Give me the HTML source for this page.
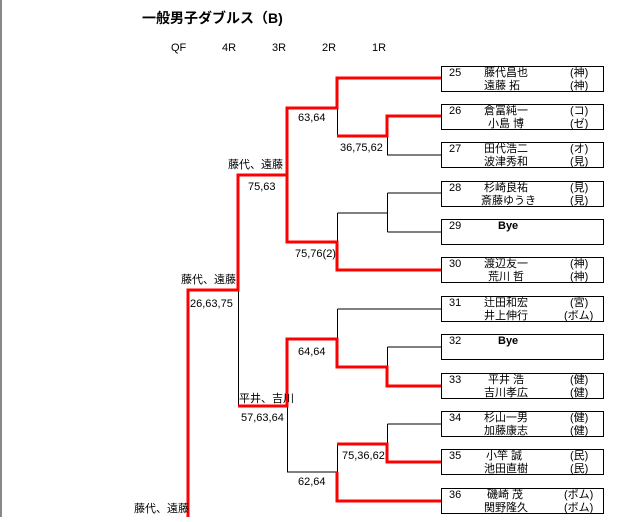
<!DOCTYPE html>
<html><head><meta charset="utf-8"><style>
body{margin:0;background:#fff;}
svg text{font-family:"Liberation Sans","Noto Sans CJK JP",sans-serif;font-size:11px;fill:#000;}
</style></head><body>
<svg width="627" height="517" xmlns="http://www.w3.org/2000/svg">
<line x1="1" y1="0" x2="1" y2="517" stroke="#888" stroke-width="2"/>
<text x="142" y="23" style="font-size:14px;font-weight:bold">一般男子ダブルス（B)</text>
<text x="171" y="51">QF</text><text x="222" y="51">4R</text><text x="272" y="51">3R</text><text x="322" y="51">2R</text><text x="372" y="51">1R</text>
<g fill="none" stroke="#000" stroke-width="1">
<path d="M337.5 108V136M387.5 136V155H441M287.5 175V242M337.5 213V242M337.5 213H387.5M387.5 193V232M387.5 193H441M387.5 232H441M238.5 290V406M337.5 309V339M337.5 309H441M387.5 347V367M387.5 347H441M287.5 406V472H337.5M337.5 444V472M387.5 424V444M387.5 424H441"/>
</g>
<g fill="none" stroke="#f00" stroke-width="3">
<path d="M441 78H337V108H287V175H238V290H188V517"/>
<path d="M337 136H387V116H441"/>
<path d="M287 175V242H337V270H441"/>
<path d="M238 406H287V339H337V367H387V386H441"/>
<path d="M337 444H387V462H441"/>
<path d="M337 472V501H441"/>
</g>
<g fill="#fff" stroke="#000" stroke-width="1">
<rect x="441.5" y="66.5" width="162" height="25"/><rect x="441.5" y="104.5" width="162" height="25"/>
<rect x="441.5" y="142.5" width="162" height="25"/><rect x="441.5" y="181.5" width="162" height="25"/>
<rect x="441.5" y="219.5" width="162" height="25"/><rect x="441.5" y="257.5" width="162" height="25"/>
<rect x="441.5" y="296.5" width="162" height="25"/><rect x="441.5" y="334.5" width="162" height="25"/>
<rect x="441.5" y="373.5" width="162" height="25"/><rect x="441.5" y="411.5" width="162" height="25"/>
<rect x="441.5" y="449.5" width="162" height="25"/><rect x="441.5" y="488.5" width="162" height="25"/>
</g>
<text x="298" y="121">63,64</text>
<text x="340" y="151">36,75,62</text>
<text x="228" y="168">藤代、遠藤</text>
<text x="248" y="190">75,63</text>
<text x="295" y="257">75,76(2)</text>
<text x="181" y="283">藤代、遠藤</text>
<text x="190" y="307">26,63,75</text>
<text x="298" y="355">64,64</text>
<text x="239" y="402">平井、吉川</text>
<text x="241" y="421">57,63,64</text>
<text x="342" y="459">75,36,62</text>
<text x="298" y="485">62,64</text>
<text x="134" y="512">藤代、遠藤</text>
<g>
<text x="449" y="76">25</text><text x="484" y="76">藤代昌也</text><text x="570" y="76">(神)</text><text x="484" y="89">遠藤 拓</text><text x="570" y="89">(神)</text>
<text x="449" y="114">26</text><text x="484" y="114">倉冨純一</text><text x="570" y="114">(コ)</text><text x="488" y="127">小島 博</text><text x="570" y="127">(ゼ)</text>
<text x="449" y="152">27</text><text x="484" y="152">田代浩二</text><text x="570" y="152">(オ)</text><text x="484" y="165">波津秀和</text><text x="570" y="165">(見)</text>
<text x="449" y="191">28</text><text x="484" y="191">杉崎良祐</text><text x="570" y="191">(見)</text><text x="481" y="204">斎藤ゆうき</text><text x="570" y="204">(見)</text>
<text x="449" y="229">29</text><text x="498" y="229" style="font-weight:bold">Bye</text>
<text x="449" y="267">30</text><text x="484" y="267">渡辺友一</text><text x="570" y="267">(神)</text><text x="488" y="280">荒川 哲</text><text x="570" y="280">(神)</text>
<text x="449" y="306">31</text><text x="484" y="306">辻田和宏</text><text x="570" y="306">(宮)</text><text x="484" y="319">井上伸行</text><text x="564" y="319">(ボム)</text>
<text x="449" y="344">32</text><text x="498" y="344" style="font-weight:bold">Bye</text>
<text x="449" y="383">33</text><text x="488" y="383">平井 浩</text><text x="570" y="383">(健)</text><text x="484" y="396">吉川孝広</text><text x="570" y="396">(健)</text>
<text x="449" y="421">34</text><text x="484" y="421">杉山一男</text><text x="570" y="421">(健)</text><text x="484" y="434">加藤康志</text><text x="570" y="434">(健)</text>
<text x="449" y="459">35</text><text x="486" y="459">小竿 誠</text><text x="570" y="459">(民)</text><text x="484" y="472">池田直樹</text><text x="570" y="472">(民)</text>
<text x="449" y="498">36</text><text x="487" y="498">磯崎 茂</text><text x="564" y="498">(ボム)</text><text x="484" y="511">関野隆久</text><text x="564" y="511">(ボム)</text>
</g>
</svg>
</body></html>
